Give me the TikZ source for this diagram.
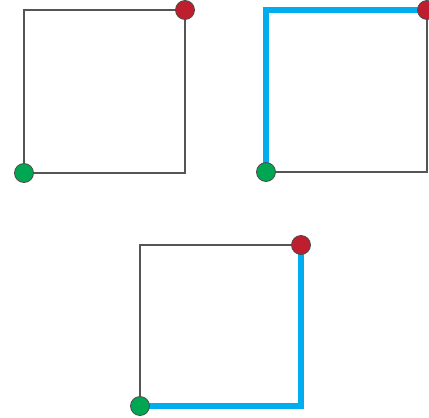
\documentclass[tikz,border=0pt]{standalone}
\usetikzlibrary{positioning}
\definecolor{dotgreen}{HTML}{00A651}
\definecolor{dotred}{HTML}{BE1E2D}
\definecolor{routeblue}{HTML}{00AEEF}
\definecolor{edgegray}{HTML}{555555}
\begin{document}
\begin{tikzpicture}[
    x=1pt, y=-1pt,
    edge/.style={draw=edgegray, line width=1.4pt},
    route/.style={draw=routeblue, line width=6.5pt},
    dot/.style={circle, draw=black!70, line width=0.8pt, minimum size=19pt, inner sep=0pt},
    startdot/.style={dot, fill=dotgreen},
    goaldot/.style={dot, fill=dotred}
]
    \useasboundingbox (0,0) rectangle (429,418);

    \coordinate (a-start) at (24,173);
    \coordinate (a-goal) at (185,10);
    \coordinate (b-start) at (266,172);
    \coordinate (b-goal) at (427,10);
    \coordinate (c-start) at (140,406);
    \coordinate (c-goal) at (301,245);

    \draw[edge] (a-start) |- (a-goal) |- (a-start);
    \draw[edge] (b-start) |- (b-goal) |- (b-start);
    \draw[edge] (c-start) |- (c-goal) |- (c-start);

    \draw[route] (b-start) |- (b-goal);
    \draw[route] (c-start) -| (c-goal);

    \node[startdot] (a-s) at (a-start) {};
    \node[goaldot] (a-g) at (a-goal) {};
    \node[startdot] (b-s) at (b-start) {};
    \node[goaldot] (b-g) at (b-goal) {};
    \node[startdot] (c-s) at (c-start) {};
    \node[goaldot] (c-g) at (c-goal) {};
\end{tikzpicture}
\end{document}
